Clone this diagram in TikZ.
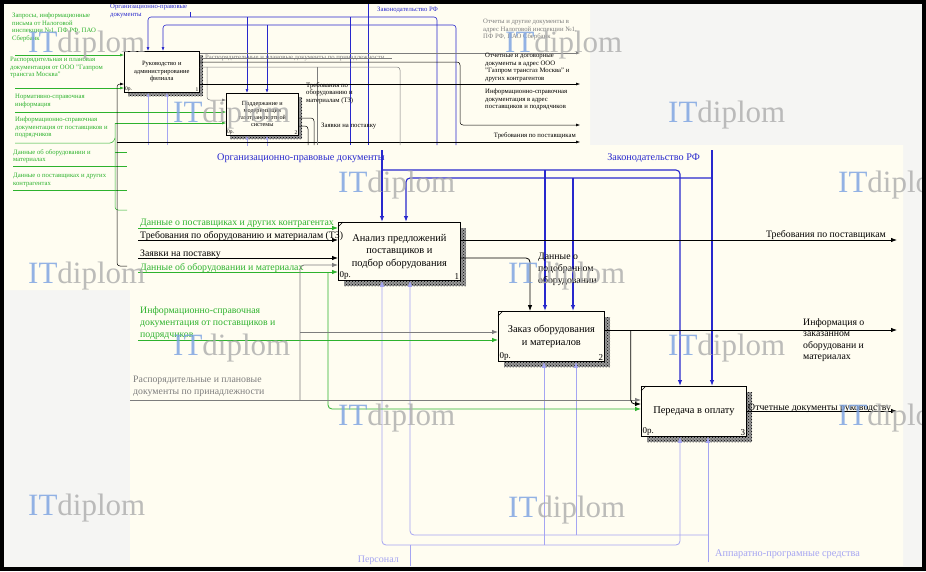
\documentclass[tikz,border=0pt]{standalone}
\usepackage{fontspec}
\setmainfont{Liberation Serif}
\usetikzlibrary{arrows.meta,calc,patterns}

\definecolor{paper}{RGB}{255,253,241}
\definecolor{outside}{RGB}{245,245,243}
\definecolor{ctlblue}{RGB}{40,40,205}
\definecolor{mechblue}{RGB}{165,165,242}
\definecolor{inpgreen}{RGB}{45,178,45}
\definecolor{docgray}{RGB}{125,125,125}
\definecolor{wmblue}{RGB}{120,160,225}
\definecolor{wmgray}{RGB}{172,172,172}

\tikzset{
  box/.style={draw, line width=0.8pt, fill=paper, anchor=north west, inner sep=0pt,
    align=center, font=\fontsize{10.4}{12.4}\selectfont},
  small box/.style={line width=0.6pt, font=\fontsize{6.5}{7.3}\selectfont},
  shade box/.style={fill=black!40, postaction={pattern=crosshatch dots, pattern color=black}},
  num/.style={font=\fontsize{9}{9}\selectfont, inner sep=1.5pt},
  snum/.style={font=\fontsize{5.5}{6}\selectfont, inner sep=1pt},
  lbl/.style={font=\fontsize{9.8}{12}\selectfont, inner sep=0pt, align=left},
  tiny/.style={font=\fontsize{6.7}{7.5}\selectfont, inner sep=0pt, align=left},
  arr/.style={-{Latex[length=6pt,width=4.5pt]}, rounded corners=4pt, line width=0.8pt},
  sarr/.style={-{Latex[length=4pt,width=3pt]}, rounded corners=3pt, line width=0.5pt},
  wire/.style={rounded corners=4pt, line width=0.8pt},
  swire/.style={rounded corners=3pt, line width=0.5pt},
  ctl/.style={draw=ctlblue, line width=1.1pt},
  sctl/.style={draw=ctlblue, line width=0.6pt},
  mech/.style={draw=mechblue},
  grn/.style={draw=inpgreen},
  gry/.style={draw=docgray},
  wm/.style={anchor=west, inner sep=0pt, text=wmgray, opacity=0.8,
    font=\fontsize{31}{31}\selectfont}
}

\begin{document}
\begin{tikzpicture}[x=1pt,y=-1pt]
\useasboundingbox (0,0) rectangle (926,571);

% backdrop
\fill[outside] (0,0) rectangle (926,571);
\fill[paper] (3,3) -- (590,3) -- (590,145) -- (903,145) -- (903,566)
  -- (130,566) -- (130,290) -- (3,290) -- cycle;

% ---------- inset: parent diagram ----------
\fill[shade box] (128,55) rectangle (203,96);
\node[box, small box, minimum width=75pt, minimum height=41pt] (bA) at (124,51)
  {Руководство и\\администрирование\\филиала};
\node[snum, anchor=south west] (bAo) at (bA.south west) {0р.};
\node[snum, anchor=south east] (bAn) at (bA.south east) {1};

\fill[shade box] (230,97) rectangle (302,139);
\node[box, small box, font=\fontsize{6.2}{7}\selectfont, minimum width=72pt, minimum height=42pt] (bB) at (226,93)
  {Поддержание и\\модернизация\\газотранспортной\\системы};
\node[snum, anchor=south west] (bBo) at (bB.south west) {0р.};
\node[snum, anchor=south east] (bBn) at (bB.south east) {2};

% inset controls
\node[tiny, text=ctlblue, anchor=north west] (sOrgLbl) at (110,4) {Организационно-правовые\\документы};
\node[tiny, text=ctlblue, anchor=base west] (sLawLbl) at (377,11) {Законодательство РФ};
\coordinate (sOrgTop) at (190,12);
\coordinate (sOrgJ) at (190,17);
\coordinate (sLawTop) at (368,4);
\coordinate (sLawJ) at (368,25);
\draw[swire, sctl] (sOrgTop) -- (sOrgJ);
\draw[sarr, sctl] (sOrgJ) -| ($(bA.north west)+(24,0)$);
\draw[swire, sctl] (sOrgJ) -| (437,145);
\draw[sarr, sctl] (247,17) -- ($(bB.north west)+(21,0)$);
\draw[swire, sctl] (350,17) -- (350,145);
\draw[swire, sctl] (sLawTop) -- (368,145);
\draw[sarr, sctl] (sLawJ) -| ($(bA.north west)+(39,0)$);
\draw[swire, sctl] (sLawJ) -| (456,145);
\draw[sarr, sctl] (267,25) -- ($(bB.north west)+(41,0)$);

% inset mechanisms
\draw[sarr, mech, line width=0.8pt] (148,145) -- ($(bA.south west)+(24,0)$);
\draw[sarr, mech, line width=0.8pt] (167,145) -- ($(bA.south west)+(43,0)$);
\draw[sarr, mech, line width=0.8pt] (247,146) -- ($(bB.south west)+(21,0)$);
\draw[sarr, mech, line width=0.8pt] (267,146) -- ($(bB.south west)+(41,0)$);

% inset inputs
\node[tiny, text=inpgreen, anchor=north west] (sQryLbl) at (12,13)
  {Запросы, информационные\\письма от Налоговой\\инспекции №1, ПФ РФ, ПАО\\Сбербанк};
\node[tiny, text=inpgreen, anchor=north west] (sPlanLbl) at (10,57)
  {Распорядительная и плановая\\документация от ООО "Газпром\\трансгаз Москва"};
\node[tiny, text=inpgreen, anchor=north west] (sNormLbl) at (15,94)
  {Нормативно-справочная\\информация};
\node[tiny, text=inpgreen, anchor=north west] (sInfoLbl) at (15,117)
  {Информационно-справочная\\документация от поставщиков и\\подрядчиков};
\node[tiny, text=inpgreen, anchor=north west] (sEqLbl) at (13,149)
  {Данные об оборудовании и\\материалах};
\node[tiny, text=inpgreen, anchor=north west] (sSupLbl) at (13,173)
  {Данные о поставщиках и других\\контрагентах};
\coordinate (sQry) at (15,55);
\coordinate (sPlan) at (15,88);
\coordinate (sNorm) at (15,112);
\coordinate (sInfo) at (15,143);
\draw[sarr, grn] (sQry) -- (sQry -| bA.west);
\draw[sarr, grn] (sPlan) -- (sPlan -| bA.west);
\draw[sarr, grn] (sNorm) -- (sNorm -| bB.west);
\draw[swire, grn] (sInfo) -- (113,143) -- (115,138);
\draw[sarr, grn] (115,123) -- ($(bB.north west)+(0,30)$);
\draw[swire, grn] (115,123) -- (115,210) -- (127,210);
\draw[swire, grn] (115,152) -- (127,152);
\draw[swire, grn] (13,166) -- (127,166);
\draw[swire, grn] (13,190) -- (127,190);
\draw[sarr] (127,266) -- (117,266) -- (117,84) -- ($(bA.north west)+(0,33)$);
\draw[sarr] (117,142) -- (580,142);

% inset outputs
\draw[sarr, gry] ($(bA.north east)+(0,2)$) -- (580,53);
\draw[swire, gry] ($(bA.north east)+(0,7)$) -- (392,58);
\node[tiny, text=docgray, anchor=base west] (sDocsLbl) at (205,59)
  {Распорядительные и плановые документы по принадлежности};
\draw[sarr] ($(bA.north east)+(0,11)$) -- (460,62) -- (460,125) -- (580,125);
\draw[swire, gry] ($(bA.north east)+(0,16)$) -- (400,67) -- (400,145);
\draw[swire, gry] (317,67) -- (317,145);
\draw[sarr, gry] (207,67) |- ($(bB.north west)+(0,7)$);
\draw[sarr] ($(bA.north east)+(0,33)$) -- (580,84);
\draw[swire] ($(bB.north east)+(0,25)$) -| (314,145);
\draw[swire] ($(bB.north east)+(0,33)$) -| (308,145);
\node[tiny, anchor=north west] (sReqLbl) at (306,82) {Требования по\\оборудованию и\\материалам (ТЗ)};
\node[tiny, anchor=base west] (sOrdLbl) at (321,127) {Заявки на поставку};
\node[tiny, text=docgray, anchor=north west] (sRepLbl) at (483,19)
  {Отчеты и другие документы в\\адрес Налоговой инспекции №1,\\ПФ РФ, ПАО Сбербанк};
\node[tiny, anchor=north west] (sContrLbl) at (485,53)
  {Отчетные и договорные\\документы в адрес ООО\\"Газпром трансгаз Москва" и\\других контрагентов};
\node[tiny, anchor=north west] (sInfoOutLbl) at (485,89)
  {Информационно-справочная\\документация в адрес\\поставщиков и подрядчиков};
\node[tiny, anchor=base east] (sSupOutLbl) at (576,137) {Требования по поставщикам};

% ---------- main diagram ----------
\fill[shade box] (344,228) rectangle (466,286);
\node[box, minimum width=122pt, minimum height=58pt] (b1) at (338,222)
  {Анализ предложений\\поставщиков и\\подбор оборудования};
\node[num, anchor=south west] (b1o) at (b1.south west) {0р.};
\node[num, anchor=south east] (b1n) at (b1.south east) {1};
\draw[thin] ($(b1.north west)+(0,5)$) -- ($(b1.north west)+(5,0)$);

\fill[shade box] (504,317) rectangle (610,367);
\node[box, minimum width=106pt, minimum height=50pt] (b2) at (498,311)
  {Заказ оборудования\\и материалов};
\node[num, anchor=south west] (b2o) at (b2.south west) {0р.};
\node[num, anchor=south east] (b2n) at (b2.south east) {2};
\draw[thin] ($(b2.north west)+(0,5)$) -- ($(b2.north west)+(5,0)$);

\fill[shade box] (647,392) rectangle (752,442);
\node[box, minimum width=105pt, minimum height=50pt] (b3) at (641,386)
  {Передача в оплату};
\node[num, anchor=south west] (b3o) at (b3.south west) {0р.};
\node[num, anchor=south east] (b3n) at (b3.south east) {3};
\draw[thin] ($(b3.north west)+(0,5)$) -- ($(b3.north west)+(5,0)$);

% control and mechanism points
\coordinate (c1a) at ($(b1.north west)+(44,0)$);
\coordinate (c1b) at ($(b1.north west)+(68,0)$);
\coordinate (c2a) at ($(b2.north west)+(47,0)$);
\coordinate (c2b) at ($(b2.north west)+(75,0)$);
\coordinate (c3a) at ($(b3.north west)+(39,0)$);
\coordinate (c3b) at ($(b3.north west)+(71,0)$);
\coordinate (m1a) at ($(b1.south west)+(44,0)$);
\coordinate (m1b) at ($(b1.south west)+(72,0)$);
\coordinate (m2a) at ($(b2.south west)+(46,0)$);
\coordinate (m2b) at ($(b2.south west)+(78,0)$);
\coordinate (m3a) at ($(b3.south west)+(39,0)$);
\coordinate (m3b) at ($(b3.south west)+(67,0)$);

% controls
\node[lbl, text=ctlblue, font=\fontsize{10.2}{11}\selectfont, anchor=base east] (orgLbl) at (385,160)
  {Организационно-правовые документы};
\node[lbl, text=ctlblue, font=\fontsize{10.2}{11}\selectfont, anchor=base east] (lawLbl) at (700,160)
  {Законодательство РФ};
\coordinate (orgTop) at (382,150);
\coordinate (orgJ) at (382,170);
\coordinate (lawTop) at (712,150);
\coordinate (lawJ) at (712,178);
\draw[arr, ctl] (orgTop) -- (c1a);
\draw[arr, ctl] (orgJ) -| (c3a);
\draw[arr, ctl] (c2a |- orgJ) -- (c2a);
\draw[arr, ctl] (lawTop) -- (c3b);
\draw[arr, ctl] (lawJ) -| (c1b);
\draw[arr, ctl] (c2b |- lawJ) -- (c2b);

% mechanisms
\node[lbl, text=mechblue, font=\fontsize{10}{11}\selectfont, anchor=base east] (staffLbl) at (399,562) {Персонал};
\node[lbl, text=mechblue, font=\fontsize{10.3}{11}\selectfont, anchor=base west] (hwLbl) at (715,556) {Аппаратно-програмные средства};
\coordinate (staffBot) at (410,566);
\coordinate (staffJ) at (410,545);
\coordinate (hwBot) at (708,562);
\coordinate (hwJ) at (708,535);
\draw[wire, mech] (staffBot) -- (staffJ);
\draw[arr, mech] (staffJ) -| (m1a);
\draw[arr, mech] (staffJ) -| (m3a);
\draw[arr, mech] (m2a |- staffJ) -- (m2a);
\draw[arr, mech] (hwBot) -- (m3b);
\draw[arr, mech] (hwJ) -| (m1b);
\draw[arr, mech] (m2b |- hwJ) -- (m2b);

% inputs
\node[lbl, text=inpgreen, anchor=base west] (supLbl) at (140,225) {Данные о поставщиках и других контрагентах};
\node[lbl, anchor=base west] (reqLbl) at (140,238) {Требования по оборудованию и материалам (ТЗ)};
\node[lbl, anchor=base west] (ordLbl) at (140,256) {Заявки на поставку};
\node[lbl, text=inpgreen, anchor=base west] (eqLbl) at (140,270) {Данные об оборудовании и материалах};
\node[lbl, text=inpgreen, anchor=north west] (infoLbl) at (140,306)
  {Информационно-справочная\\документация от поставщиков и\\подрядчиков};
\node[lbl, text=docgray, anchor=north west] (docsLbl) at (133,376)
  {Распорядительные и плановые\\документы по принадлежности};
\coordinate (inSup) at (138,228);
\coordinate (inReq) at (138,240);
\coordinate (inOrd) at (138,258);
\coordinate (inEq) at (138,272);
\coordinate (inInfo) at (138,340);
\coordinate (inDocs) at (130,400);
\coordinate (eqDown) at (328,272);
\coordinate (docsUp) at (300,400);
\coordinate (in1d) at ($(b1.north west)+(0,43)$);
\coordinate (in2d) at ($(b2.north west)+(0,21)$);
\coordinate (in3d) at ($(b3.north west)+(0,14)$);
\coordinate (in3b) at ($(b3.north west)+(0,18)$);
\coordinate (in3g) at ($(b3.north west)+(0,23)$);
\draw[arr, grn] (inSup) -- (inSup -| b1.west);
\draw[arr] (inReq) -- (inReq -| b1.west);
\draw[arr] (inOrd) -- (inOrd -| b1.west);
\draw[arr, grn] (inEq) -- (inEq -| b1.west);
\draw[arr, grn] (eqDown) |- (in3g);
\draw[arr, grn] (inInfo) -- (inInfo -| b2.west);
\draw[arr, gry] (inDocs) -- (in3d);
\draw[arr, gry] (docsUp) |- (in1d);
\draw[arr, gry] (docsUp |- in2d) -- (in2d);

% outputs
\coordinate (oReq) at ($(b1.north east)+(0,18)$);
\coordinate (oReqEnd) at (897,240);
\coordinate (oSel) at ($(b1.north east)+(0,36)$);
\coordinate (i2top) at ($(b2.north west)+(32,0)$);
\coordinate (oInfo) at ($(b2.north east)+(0,19)$);
\coordinate (oInfoJ) at ($(oInfo)+(26,0)$);
\coordinate (oInfoEnd) at (897,330);
\coordinate (oRep) at ($(b3.north east)+(0,25)$);
\coordinate (oRepEnd) at (897,411);
\draw[arr] (oReq) -- (oReqEnd);
\draw[arr] (oSel) -| (i2top);
\draw[arr] (oInfo) -- (oInfoEnd);
\draw[arr] (oInfoJ) |- (in3b);
\draw[arr] (oRep) -- (oRepEnd);
\node[lbl, anchor=base east] (reqSupLbl) at (886,237) {Требования по поставщикам};
\node[lbl, anchor=north west] (selLbl) at (538,253) {Данные о\\подобранном\\оборудовании};
\node[lbl, anchor=north west, font=\fontsize{9.8}{11.5}\selectfont] (ordInfoLbl) at (803,318)
  {Информация о\\заказанном\\оборудовани и\\материалах};
\node[lbl, anchor=base west] (repLbl) at (748,410) {Отчетные документы руководству};

% watermarks
\foreach \wx/\wy [count=\i] in {28/45, 505/45, 173/115, 668/115, 338/185, 838/185,
    28/276, 508/276, 173/348, 668/348, 338/418, 838/418, 28/508, 508/510}
  \node[wm] (wm\i) at (\wx,\wy) {\textcolor{wmblue}{IT}diplom};

% frame
\draw[line width=4pt] (2,2) rectangle (924,569);
\end{tikzpicture}
\end{document}
